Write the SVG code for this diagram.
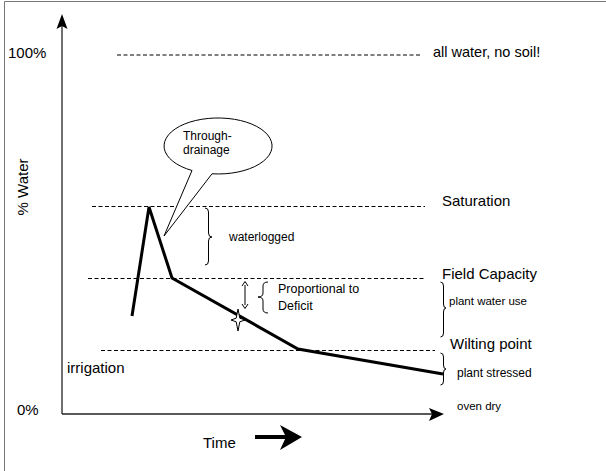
<svg xmlns="http://www.w3.org/2000/svg" width="606" height="471" viewBox="0 0 606 471">
<style>
text{font-family:"Liberation Sans",Arial,sans-serif;fill:#000}
.big{font-size:15px}
.mid{font-size:12px}
.sm{font-size:11.5px}
.dash{stroke:#000;stroke-width:1;stroke-dasharray:4 2.5;fill:none}
.brace{stroke:#000;stroke-width:1;fill:none}
.axis{stroke:#222;stroke-width:1.3;fill:none}
</style>
<rect width="606" height="471" fill="#fff"/>
<path d="M4.5,471 V1.5 H606" fill="none" stroke="#777" stroke-width="1"/>

<g id="connectors">
  <line class="axis" x1="62" y1="414" x2="62" y2="26"/>
  <path d="M62,14 L67.5,29 L62,26 L56.5,29 Z" fill="#000"/>
  <line class="axis" x1="62" y1="414" x2="432" y2="414"/>
  <path d="M444,414 L429,408 L432,414 L429,421 Z" fill="#000"/>
  <line x1="255" y1="437" x2="288" y2="437" stroke="#000" stroke-width="4"/>
  <path d="M302,437 L280,425 L286,437 L280,450 Z" fill="#000"/>
</g>

<g id="level-lines">
  <line class="dash" x1="117" y1="55" x2="422" y2="55"/>
  <line class="dash" x1="92" y1="206.5" x2="425" y2="206.5"/>
  <line class="dash" x1="88" y1="278.5" x2="425" y2="278.5"/>
  <line class="dash" x1="101" y1="350.5" x2="435" y2="350.5"/>
</g>

<g id="axis-labels">
  <text class="big" x="8" y="58">100%</text>
  <text class="big" x="17" y="415">0%</text>
  <text class="big" transform="translate(28,187) rotate(-90)" text-anchor="middle">% Water</text>
  <text class="big" x="203" y="448">Time</text>
</g>

<g id="level-labels">
  <text class="big" x="433" y="57" style="font-size:14.5px">all water, no soil!</text>
  <text class="big" x="442" y="206">Saturation</text>
  <text class="big" x="442" y="279">Field Capacity</text>
  <text class="big" x="450" y="349">Wilting point</text>
  <text class="sm" x="457" y="410">oven dry</text>
</g>

<g id="water-curve">
  <polyline points="132,316 149,207 172,278 298,349 443,374" fill="none" stroke="#000" stroke-width="3" stroke-linejoin="miter"/>
</g>

<g id="callout">
  <path d="M192,170.5 A54 28 0 1 1 212,173.8 L164,236 Z" fill="#fff" stroke="#000" stroke-width="1"/>
  <text class="mid" x="183" y="140">Through-</text>
  <text class="mid" x="183" y="154">drainage</text>
</g>

<g id="waterlogged">
  <path class="brace" d="M205,208 Q208.5,208 208.5,212 L208.5,233 Q208.5,237 212,237 Q208.5,237 208.5,241 L208.5,261 Q208.5,265 205,265"/>
  <text class="mid" x="229" y="241">waterlogged</text>
</g>

<g id="deficit">
  <line x1="245" y1="285" x2="245" y2="305" stroke="#000" stroke-width="1"/>
  <path d="M242,286 L245,281.5 L248,286 M242,304 L245,308.5 L248,304" fill="none" stroke="#000" stroke-width="1"/>
  <path class="brace" d="M268,282 Q263,282 263,286 L263,293 Q263,297 258,297 Q263,297 263,301 L263,309 Q263,313 268,313"/>
  <text class="mid" x="278" y="293" style="font-size:12.5px">Proportional to</text>
  <text class="mid" x="278" y="310" style="font-size:12.5px">Deficit</text>
  <polygon points="238,309 239.8,318.2 245,320 239.8,321.8 238,331 236.2,321.8 231,320 236.2,318.2" fill="#fff" stroke="#000" stroke-width="1" stroke-linejoin="miter"/>
</g>

<g id="plant-water-use">
  <path class="brace" d="M440.5,282 Q443.5,282 443.5,286 L443.5,304 Q443.5,308 446,308 Q443.5,308 443.5,312 L443.5,333 Q443.5,337 440.5,337"/>
  <text class="sm" x="449" y="305">plant water use</text>
</g>

<g id="plant-stressed">
  <path class="brace" d="M440.5,353 Q443.5,353 443.5,357 L443.5,365 Q443.5,369 446,369 Q443.5,369 443.5,373 L443.5,381 Q443.5,385 440.5,385"/>
  <text class="mid" x="457" y="377">plant stressed</text>
</g>

<g id="irrigation">
  <text class="big" x="67" y="373">irrigation</text>
</g>
</svg>
